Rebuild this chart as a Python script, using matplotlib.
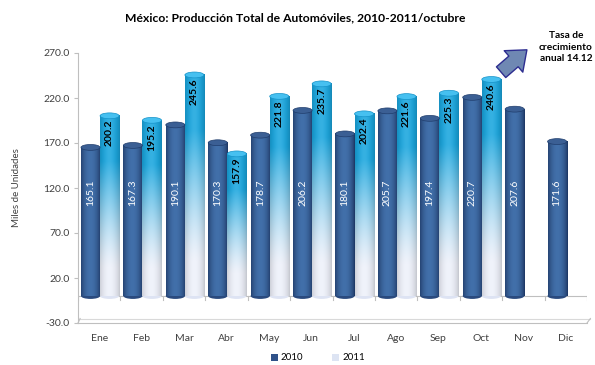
import numpy as np
import matplotlib
matplotlib.use("Agg")
import matplotlib.pyplot as plt
from matplotlib.patches import Ellipse, Patch
from matplotlib.colors import to_rgb

months = ["Ene", "Feb", "Mar", "Abr", "May", "Jun", "Jul", "Ago", "Sep", "Oct", "Nov", "Dic"]
v2010 = [165.1, 167.3, 190.1, 170.3, 178.7, 206.2, 180.1, 205.7, 197.4, 220.7, 207.6, 171.6]
v2011 = [200.2, 195.2, 245.6, 157.9, 221.8, 235.7, 202.4, 221.6, 225.3, 240.6]
yticks = [-30.0, 20.0, 70.0, 120.0, 170.0, 220.0, 270.0]

plt.rcParams['font.family'] = ['Lato', 'DejaVu Sans']

fig = plt.figure(figsize=(5.95, 3.65), dpi=100)
ax = fig.add_axes([78/595, 42/365, 509/595, 270/365])

BW = 0.45
CAP = 6.5


def body_img(kind, nx=40, ny=80):
    u = np.linspace(0, 1, nx)
    prof = np.clip(np.sin(np.pi * np.clip((u + 0.05) / 1.05, 0, 1)) ** 0.7, 0, 1)
    if kind == 2010:
        edge = np.array(to_rgb('#1b3460'))
        hl = np.array(to_rgb('#4270aa'))
        row = edge[None, :] + (hl - edge)[None, :] * prof[:, None]
        img = np.repeat(row[None, :, :], ny, axis=0)
    else:
        t = np.linspace(1, 0, ny)  # 1 at top (row 0), 0 at bottom
        top = np.array(to_rgb('#1aa6de'))
        bot = np.array(to_rgb('#eef1fa'))
        w = np.clip((t - 0.15) / 0.6, 0, 1) ** 1.3
        col = bot[None, :] * (1 - w[:, None]) + top[None, :] * w[:, None]
        shade = 0.82 + 0.18 * prof
        img = col[:, None, :] * shade[None, :, None]
        img = np.clip(img + 0.12 * (prof[None, :, None] ** 4) * (1 - img), 0, 1)
    return img


def draw_cyl(x0, h, kind):
    img = body_img(kind)
    ax.imshow(img, extent=[x0, x0 + BW, 0, h], aspect='auto', zorder=3,
              interpolation='bilinear')
    base_c = '#2a4a7e' if kind == 2010 else '#dde3f3'
    ax.add_patch(Ellipse((x0 + BW / 2, 0), BW, CAP, facecolor=base_c,
                         edgecolor='none', zorder=2.9))
    cap_c = '#3b5f94' if kind == 2010 else '#46c0f0'
    cap_e = '#203d6c' if kind == 2010 else '#1592c8'
    ax.add_patch(Ellipse((x0 + BW / 2, h), BW, CAP, facecolor=cap_c,
                         edgecolor=cap_e, lw=0.5, zorder=4))


for i, v in enumerate(v2010):
    x0 = i - 0.43
    draw_cyl(x0, v, 2010)
    ax.text(x0 + BW / 2, 115, f"{v:.1f}", rotation=90, ha='center', va='center',
            color='white', fontsize=7.5, zorder=5)
for i, v in enumerate(v2011):
    x0 = i + 0.02
    draw_cyl(x0, v, 2011)
    ax.text(x0 + BW / 2, v - 4, f"{v:.1f}", rotation=90, ha='center', va='top',
            color='black', fontsize=7.5, fontweight='bold', zorder=5)

# floor / category axis
gray = '#bfbfbf'
ax.plot([-0.5, 11.5], [0, 0], color=gray, lw=0.8, zorder=1)
for b in np.arange(-0.5, 12.0, 1.0):
    ax.plot([b, b], [0, -4], color=gray, lw=0.8, zorder=1)
ax.plot([-0.5, 11.5], [-30, -30], color=gray, lw=0.8, zorder=1, clip_on=False)
ax.plot([-0.45, 11.58], [-25, -25], color='#d9d9d9', lw=0.8, zorder=1, clip_on=False)
ax.plot([-0.5, -0.45], [-30, -25], color=gray, lw=0.8, zorder=1, clip_on=False)
ax.plot([11.5, 11.58], [-30, -25], color=gray, lw=0.8, zorder=1, clip_on=False)

ax.set_xlim(-0.5, 11.5)
ax.set_ylim(-30, 270)
ax.set_yticks(yticks)
ax.set_yticklabels([f"{t:.1f}" for t in yticks], fontsize=7.5, color='#404040')
ax.set_xticks(range(len(months)))
ax.set_xticklabels(months, fontsize=7.5, color='#404040')
ax.tick_params(axis='x', length=0, pad=8)
ax.tick_params(axis='y', length=3, color=gray, pad=3)
for s in ['top', 'right', 'bottom']:
    ax.spines[s].set_visible(False)
ax.spines['left'].set_color(gray)
ax.set_ylabel("Miles de Unidades", fontsize=7, color='#404040', labelpad=16)

fig.text(0.497, 1 - 18/365, "México: Producción Total de Automóviles, 2010-2011/octubre",
         ha='center', va='center', fontsize=8.7, fontweight='bold')

fig.text(566/595, 1 - 47/365, "Tasa de\ncrecimiento\nanual 14.12", ha='center', va='center',
         fontsize=7.3, fontweight='bold', linespacing=1.35)
ax.annotate('', xy=(529/595, 1 - 48/365), xytext=(499/595, 1 - 74/365),
            xycoords='figure fraction', textcoords='figure fraction',
            arrowprops=dict(arrowstyle='simple,head_length=0.75,head_width=1.2,tail_width=0.6',
                            mutation_scale=17, fc='#6f88b3', ec='#2d2d90', lw=1))

handles = [Patch(facecolor='#2f5289', edgecolor='none', label='2010'),
           Patch(facecolor='#dde4f3', edgecolor='none', label='2011')]
fig.legend(handles=handles, loc='center', bbox_to_anchor=(318/595, 1 - 358/365), ncol=2,
           frameon=False, fontsize=7, handlelength=0.7, handleheight=0.7,
           handletextpad=0.3, columnspacing=3.0)

fig.savefig("out.png", dpi=100)
